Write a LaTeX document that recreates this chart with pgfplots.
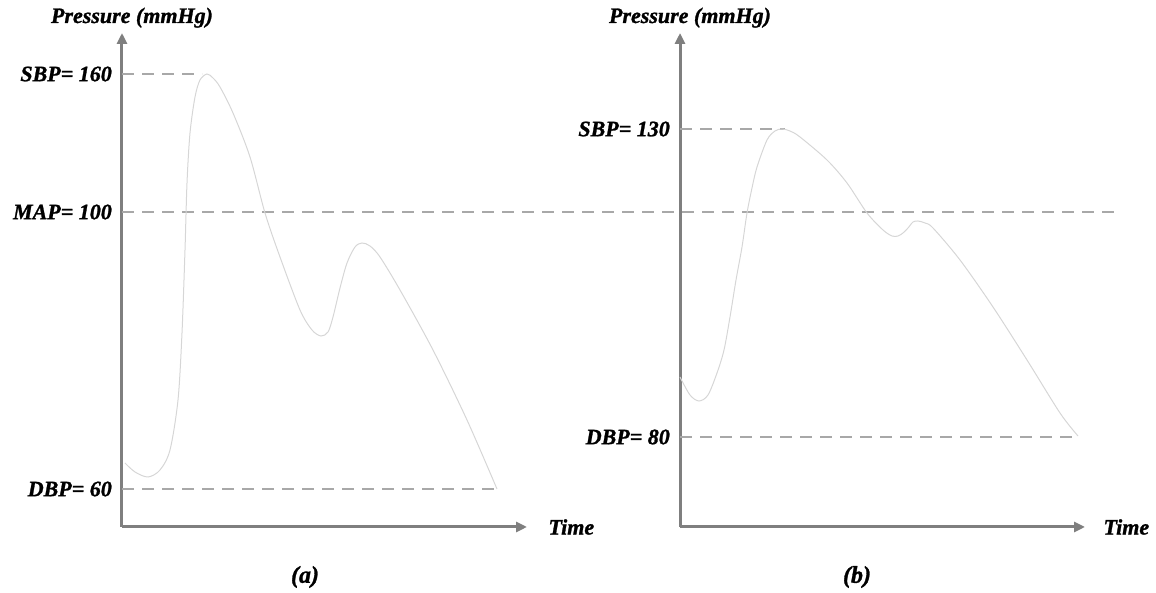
\documentclass[border=0pt]{standalone}
\usepackage{pgfplots}
\pgfplotsset{compat=1.18}
\usepackage{fontspec}
\setmainfont{Liberation Serif}[BoldItalicFeatures={FakeBold=1.2}]
\usetikzlibrary{arrows.meta}
\definecolor{axgray}{HTML}{7F7F7F}
\definecolor{dashgray}{HTML}{A8A8A8}
\definecolor{curvegray}{HTML}{D6D6D6}
\newcommand{\lbl}{\fontsize{22}{26}\selectfont\bfseries\itshape}
\newcommand{\sublbl}{\fontsize{24}{28}\selectfont\bfseries\itshape}
\pgfplotsset{
  panel/.style={
    scale only axis, width=405pt, height=494pt,
    xmin=0, xmax=405, ymin=0, ymax=494,
    axis lines=left,
    axis line style={draw=axgray, line width=3pt, -{Triangle[length=11pt,width=10pt]}},
    xtick=\empty,
    major tick length=0pt,
    yticklabel style={font=\lbl, text=black, inner sep=0pt, xshift=-10pt},
    clip=false,
  },
  dashref/.style={draw=dashgray, line width=2pt, dash pattern=on 12pt off 8pt, no marks},
  wave/.style={draw=curvegray, line width=1pt, no marks, smooth, tension=0.5},
}
\begin{document}
\begin{tikzpicture}
\useasboundingbox (0,0) rectangle (1156pt,593pt);
% ---------- panel (a) ----------
\begin{axis}[panel, at={(122pt,66pt)}, anchor=south west,
  ytick={38,315,453}, yticklabels={DBP= 60, MAP= 100, SBP= 160}]
\addplot[dashref] coordinates {(0,453) (80,453)};
\addplot[dashref] coordinates {(0,315) (993,315)};
\addplot[dashref] coordinates {(0,38) (375,38)};
\addplot[wave] coordinates {
(3,64) (13,55) (26,50) (38,57) (48,77) (56,127) (60,194) (63,277) (65,344)
(68,394) (73,430) (78,447) (85,453) (91,449) (98,440) (111,414) (128,370)
(143,314) (158,270) (178,217) (190,197) (199,191) (206,195) (211,210) (218,239)
(225,264) (233,280) (240,284) (248,281) (258,270) (278,237) (311,177) (345,107) (375,38)};
\node[font=\lbl, anchor=base] at (rel axis cs:0,1) [xshift=10pt, yshift=10pt] {Pressure (mmHg)};
\node[font=\lbl, anchor=west] at (rel axis cs:1,0) [xshift=18pt] {Time};
\node[font=\sublbl] at (axis cs:183,-50) {(a)};
\end{axis}
% ---------- panel (b) ----------
\begin{axis}[panel, at={(680pt,66pt)}, anchor=south west,
  ytick={90,398}, yticklabels={DBP= 80, SBP= 130}]
\addplot[dashref] coordinates {(0,398) (105,398)};
\addplot[dashref] coordinates {(0,90) (393,90)};
\addplot[wave] coordinates {
(0,150) (10,132) (19,126) (28,132) (37,154) (44,177) (50,210) (56,247) (62,280)
(67,314) (72,339) (77,360) (87,387) (95,396) (102,398) (110,396) (120,390)
(147,367) (167,344) (187,314) (203,297) (212,291) (218,291) (223,294) (228,299)
(233,305) (238,306) (245,304) (253,299) (280,267) (313,220) (347,167) (380,114) (398,91)};
\node[font=\lbl, anchor=base] at (rel axis cs:0,1) [xshift=10pt, yshift=10pt] {Pressure (mmHg)};
\node[font=\lbl, anchor=west] at (rel axis cs:1,0) [xshift=15pt] {Time};
\node[font=\sublbl] at (axis cs:177,-50) {(b)};
\end{axis}
\end{tikzpicture}
\end{document}
